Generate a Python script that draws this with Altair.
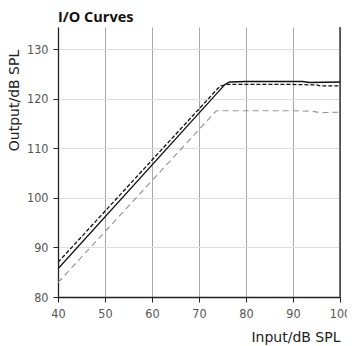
import altair as alt
import pandas as pd

solid_x = [40, 74, 75.5, 76.5, 80, 92, 93.5, 100]
solid_y = [85.7, 121.3, 122.9, 123.4, 123.5, 123.5, 123.3, 123.4]
dash_x = [40, 74.5, 76, 90, 95, 96, 100]
dash_y = [87.0, 122.6, 122.9, 122.9, 122.8, 122.6, 122.6]
gray_x = [40, 73.7, 90, 94, 96, 100]
gray_y = [82.9, 117.6, 117.6, 117.5, 117.2, 117.3]

x_ticks = [40, 50, 60, 70, 80, 90, 100]
y_ticks = [80, 90, 100, 110, 120, 130]

def frame(xs, ys, name):
    return pd.DataFrame({"x": xs, "y": ys, "s": name})

df = pd.concat([frame(solid_x, solid_y, "solid"),
                frame(dash_x, dash_y, "dash"),
                frame(gray_x, gray_y, "gray")])

LABEL_FONT = "Liberation Sans Narrow, DejaVu Sans Condensed, sans-serif"
AXIS_TITLE_FONT = "DejaVu Sans, sans-serif"
TITLE_FONT = "Open Sans, sans-serif"

xs = alt.Scale(domain=[40, 100], nice=False)
ys = alt.Scale(domain=[80, 134.5], nice=False, zero=False)

xaxis = alt.Axis(values=x_ticks, title="Input/dB SPL", grid=True, gridColor="#a8a8a8",
                 gridWidth=1, domainColor="#222", domainWidth=1.3, tickColor="#222",
                 tickSize=5, labelPadding=5, labelFont=LABEL_FONT, labelFontSize=12.5,
                 labelColor="#555", labelFlush=False, titleFont=AXIS_TITLE_FONT,
                 titleFontSize=14, titleFontWeight="normal", titleColor="#222",
                 titleAlign="right", titleAnchor="end", titleX=282, titleY=44,
                 titleBaseline="alphabetic")
yaxis = alt.Axis(values=y_ticks, title="Output/dB SPL", grid=True, gridColor="#dedede",
                 gridWidth=1, domainColor="#222", domainWidth=1.3, tickColor="#222",
                 tickSize=5, labelPadding=5, labelFont=LABEL_FONT, labelFontSize=12.5,
                 labelColor="#555", labelFlush=False, titleFont=AXIS_TITLE_FONT,
                 titleFontSize=14, titleFontWeight="normal", titleColor="#222",
                 titleAngle=-90, titleAlign="center", titleX=-40, titleY=73,
                 titleBaseline="alphabetic")

base = alt.Chart(df)

def line(name, color, dash, width):
    kw = dict(color=color, strokeWidth=width, clip=True)
    if dash:
        kw["strokeDash"] = dash
    return base.transform_filter(alt.datum.s == name).mark_line(**kw).encode(
        x=alt.X("x:Q", scale=xs, axis=xaxis),
        y=alt.Y("y:Q", scale=ys, axis=yaxis),
    )

right = alt.Chart(pd.DataFrame({"x": [100]})).mark_rule(color="#222", strokeWidth=1.3).encode(
    x=alt.X("x:Q", scale=xs)
)

chart = alt.layer(
    line("gray", "#999999", [6, 4], 1.2),
    line("dash", "#111111", [4, 2], 1.3),
    line("solid", "#111111", None, 1.3),
    right,
).properties(
    width=282, height=270,
    title=alt.TitleParams("I/O Curves", anchor="start", frame="group", font=TITLE_FONT,
                          fontSize=14.5, fontWeight="bold", color="#111", offset=1),
    autosize=alt.AutoSizeParams(type="none"),
    padding={"left": 50, "top": 19, "right": 7, "bottom": 48},
).configure_view(stroke=None)

chart.save("out.html", embed_options={"renderer": "svg", "actions": False})
